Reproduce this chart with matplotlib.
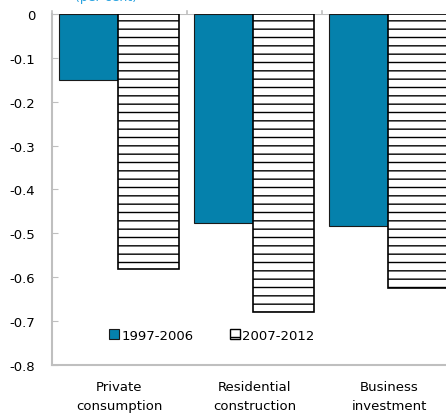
import numpy as np
import matplotlib
matplotlib.use("Agg")
import matplotlib.pyplot as plt
from matplotlib.patches import Patch

# data
categories = ["Private\nconsumption", "Residential\nconstruction", "Business\ninvestment"]
period_1 = [-0.15, -0.477, -0.483]   # 1997-2006
period_2 = [-0.581, -0.680, -0.625]  # 2007-2012
series_labels = ["1997-2006", "2007-2012"]
y_ticks = [0, -0.1, -0.2, -0.3, -0.4, -0.5, -0.6, -0.7, -0.8]

blue = "#0581AC"
grey = "#BFBFBF"

plt.rcParams["font.family"] = ["DejaVu Sans"]
plt.rcParams["hatch.linewidth"] = 1.0

fig = plt.figure(figsize=(4.46, 4.14), dpi=100)
ax = fig.add_axes([0.1166, 0.1159, 0.908, 0.848])

x = np.arange(len(categories))
w = 0.45
ax.bar(x - w / 2, period_1, width=w, color=blue, edgecolor="#1a1a1a", linewidth=0.8,
       label=series_labels[0])
ax.bar(x + w / 2 - 0.01, period_2, width=w, color="white", edgecolor="black", linewidth=1.2,
       hatch="--", label=series_labels[1])

ax.set_xlim(-0.5, 2.5)
ax.set_ylim(-0.8, 0)
ax.set_yticks(y_ticks)
ax.set_yticklabels(["0" if v == 0 else f"{v:.1f}" for v in y_ticks], fontsize=9.5)
ax.tick_params(axis="y", direction="in", length=4, color=grey, pad=12)

# category labels under the plot, ticks at category boundaries along the zero line
ax.set_xticks([])
for i, c in enumerate(categories):
    ax.text(i, -0.835, c, ha="center", va="top", fontsize=9.5, linespacing=1.55)
for b in [-0.5, 0.5, 1.5]:
    ax.plot([b, b], [0, 0.007], color=grey, lw=1.2, clip_on=False)

for s in ["top", "right"]:
    ax.spines[s].set_visible(False)
for s in ["left", "bottom"]:
    ax.spines[s].set_color(grey)
    ax.spines[s].set_linewidth(1.5)
ax.axhline(0, color=grey, lw=1.5, zorder=0.5)

handles = [Patch(facecolor=blue, edgecolor="#1a1a1a", linewidth=0.8),
           Patch(facecolor="white", edgecolor="black", hatch="--", linewidth=1.0)]
ax.legend(handles, series_labels, loc="center", bbox_to_anchor=(0.395, 0.085),
          ncol=2, frameon=False, fontsize=9.5, handlelength=0.7, handleheight=0.7,
          handletextpad=0.2, columnspacing=2.8)

# title line sits above the figure edge in the reference, only its bottom shows
fig.text(0.168, 1.005, "(per cent)", color="#29A3E0", fontsize=9, va="center", ha="left")

fig.savefig("out.png", dpi=100)
